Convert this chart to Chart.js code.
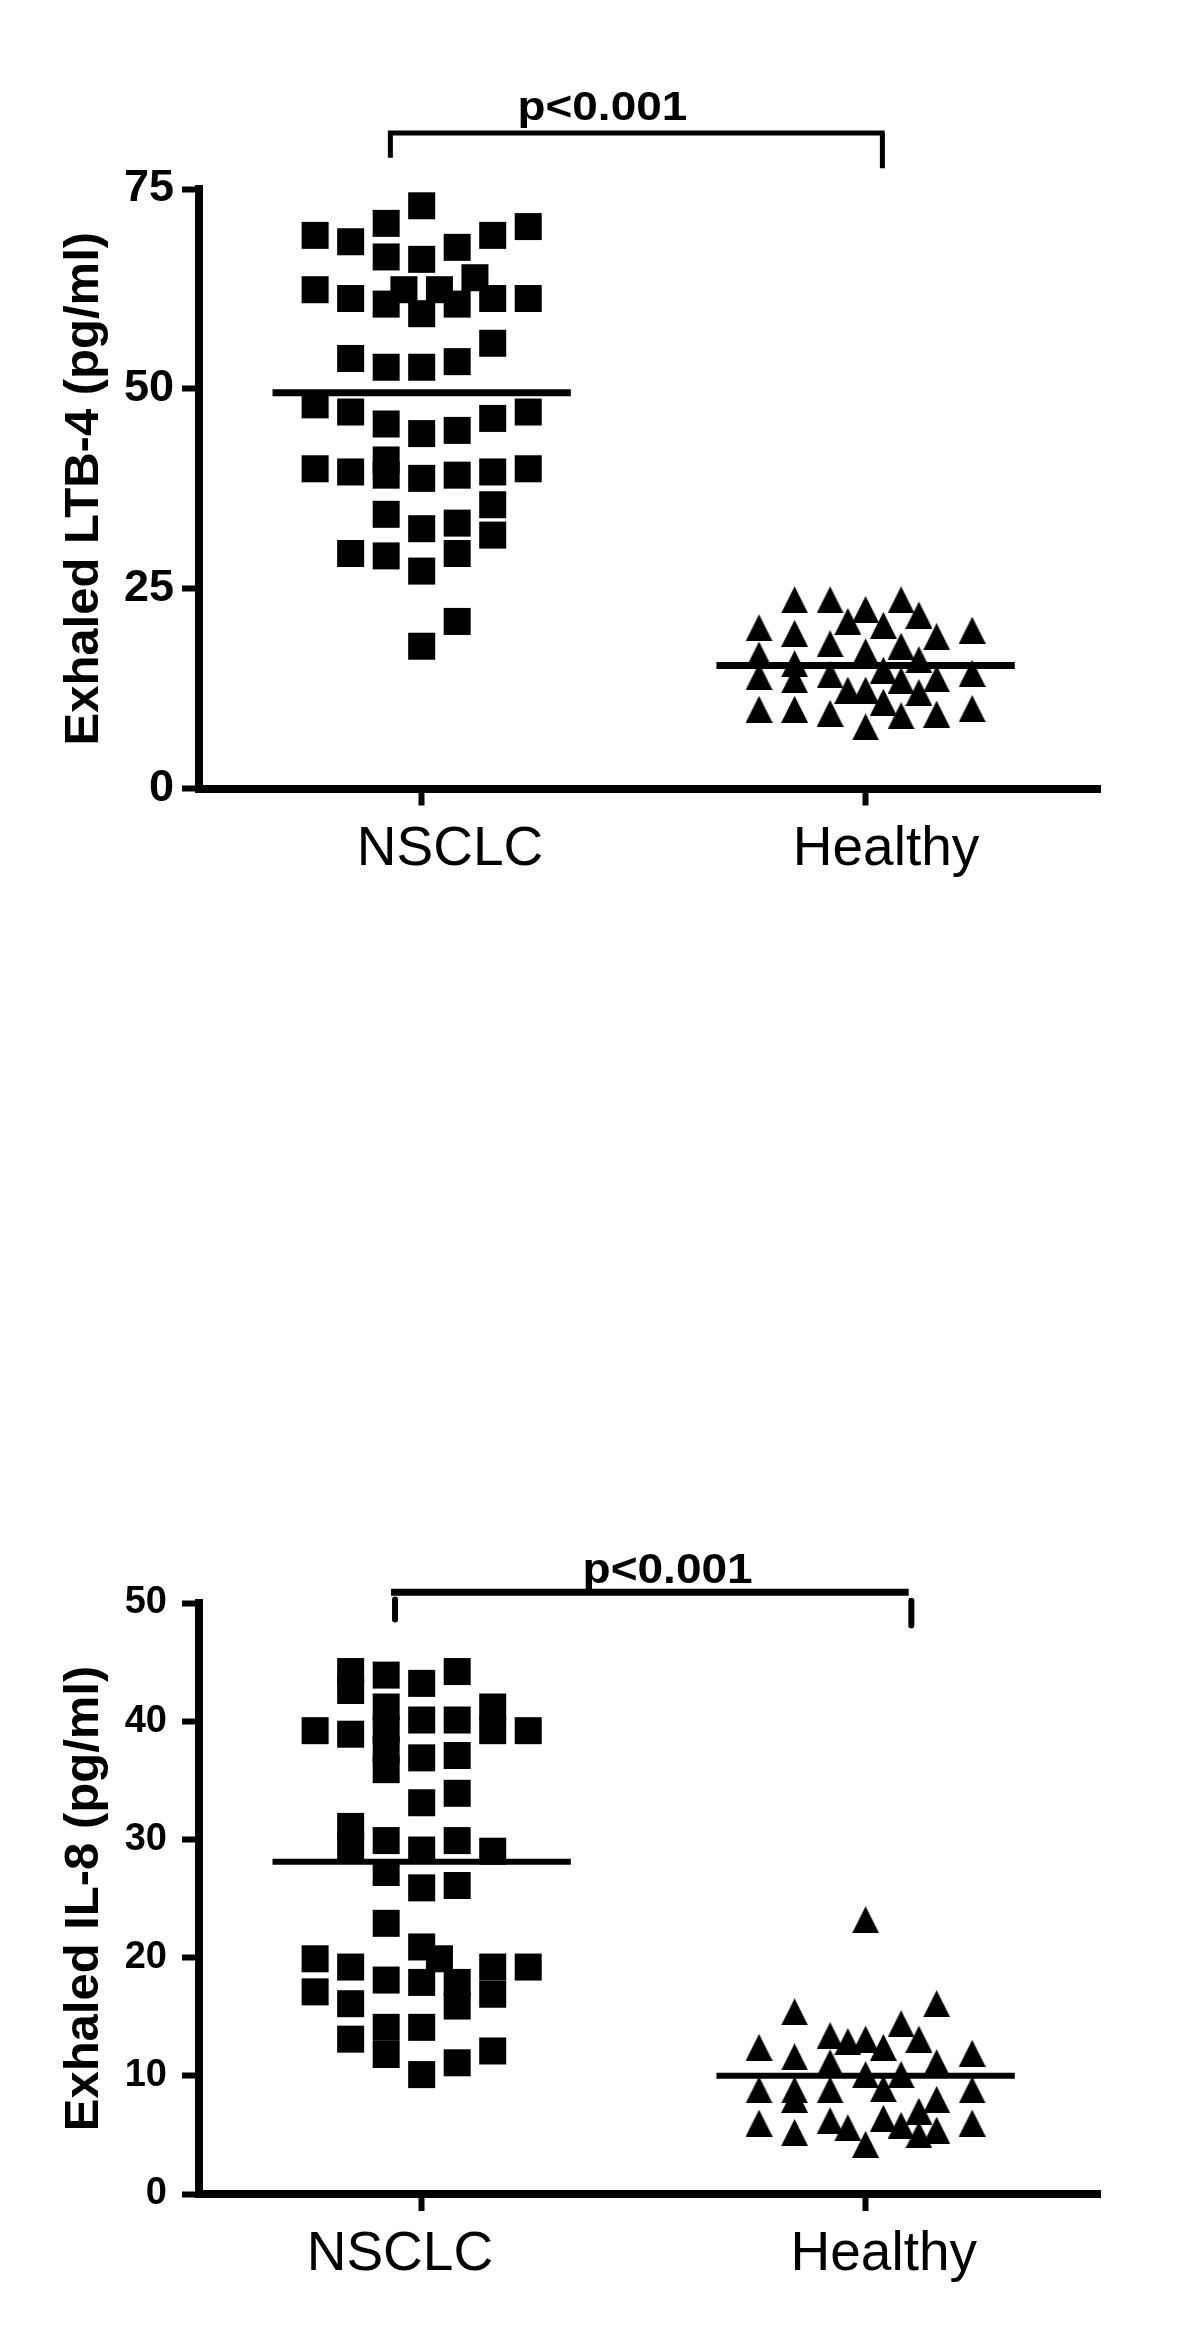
<!DOCTYPE html>
<html><head><meta charset="utf-8">
<script src="https://cdn.jsdelivr.net/npm/chart.js@4.4.1/dist/chart.umd.min.js"></script>
<style>
html,body{margin:0;padding:0;background:#fff;width:1200px;height:2343px;overflow:hidden}
canvas{position:absolute;left:0}
#c1{top:0}
#c2{top:1000px}
</style></head><body>
<canvas id="c1" width="1200" height="1000"></canvas>
<canvas id="c2" width="1200" height="1343"></canvas>
<script>
// ---------- DATA ----------
const categories = ['NSCLC', 'Healthy'];

// Panel 1: Exhaled LTB-4 (pg/ml)
const ltbTicks = [0, 25, 50, 75];
const ltbNsclc = [72.9, 69.2, 68.4, 70.7, 70.3, 69.2, 67.7, 66.5, 66.2,
  62.4, 61.3, 60.6, 62.4, 59.4, 62.4, 60.6, 63.9, 61.3, 61.3,
  53.8, 52.7, 52.7, 53.4, 55.7,
  48.0, 47.1, 45.6, 44.4, 44.8, 46.3, 47.1,
  40.0, 39.6, 41.1, 39.2, 38.8, 39.2, 39.6, 40.0,
  34.3, 32.5, 33.2, 35.5, 31.7,
  29.4, 29.1, 27.2, 29.4,
  20.9, 17.8];
const ltbNsclcColumn = [0, -6, -4, -2, 6, 4, 2, -2, 0,
  -6, -4, -2, -1, 0, 1, 2, 3, 4, 6,
  -4, -2, 0, 2, 4,
  -6, -4, -2, 0, 2, 4, 6,
  -6, -4, -2, -2, 0, 2, 4, 6,
  -2, 0, 2, 4, 4,
  -4, -2, 0, 2,
  2, 0];
const ltbHealthy = [20.1, 16.7, 14.0, 9.9,
  23.6, 19.4, 15.6, 13.6, 9.9,
  23.6, 18.1, 14.2, 9.4,
  20.9, 12.3,
  22.4, 17.1, 12.3, 7.7,
  20.4, 14.8, 10.8,
  23.6, 17.8, 13.5, 9.1,
  21.7, 16.1, 12.0,
  19.0, 13.7, 9.3,
  19.8, 14.4, 10.0];
const ltbHealthyColumn = [-6, -6, -6, -6,
  -4, -4, -4, -4, -4,
  -2, -2, -2, -2,
  -1, -1,
  0, 0, 0, 0,
  1, 1, 1,
  2, 2, 2, 2,
  3, 3, 3,
  4, 4, 4,
  6, 6, 6];
const ltbMeans = [49.5, 15.4];
const ltbP = 'p<0.001';

// Panel 2: Exhaled IL-8 (pg/ml)
const il8Ticks = [0, 10, 20, 30, 40, 50];
const il8Nsclc = [44.2, 42.6, 43.9, 43.2, 44.2,
  41.2, 39.3, 37.6, 35.9,
  40.1, 36.9, 33.1, 29.1,
  40.1, 37.1, 33.9, 29.9,
  39.2, 38.9, 41.2, 39.2, 39.2,
  31.1, 29.4, 29.9, 29.0,
  27.2, 25.9, 26.1, 22.9, 20.9, 19.9, 19.9, 19.2, 19.2, 19.2, 16.9, 17.1,
  18.1, 17.9, 17.9, 15.9, 16.1, 13.1, 14.1, 11.8, 14.1, 10.1, 11.1, 12.1];
const il8NsclcColumn = [-4, -4, -2, 0, 2,
  -2, -2, -2, -2,
  0, 0, 0, 0,
  2, 2, 2, 2,
  -6, -4, 4, 4, 6,
  -4, -4, -2, 4,
  -2, 0, 2, -2, 0, 1, -6, -4, 6, 4, 4, -6,
  -2, 0, 2, 2, -4, -4, -2, -2, 0, 0, 2, 4];
const il8Healthy = [12.4, 8.8, 6.0,
  15.4, 11.6, 8.8, 8.0, 5.2,
  13.4, 11.1, 8.8, 6.2,
  12.9, 5.6,
  23.2, 13.1, 10.1, 4.2,
  12.4, 8.9, 6.4,
  14.4, 10.1, 5.8,
  13.1, 7.0, 5.0,
  16.1, 11.1, 8.0, 5.4,
  11.9, 8.8, 6.0];
const il8HealthyColumn = [-6, -6, -6,
  -4, -4, -4, -4, -4,
  -2, -2, -2, -2,
  -1, -1,
  0, 0, 0, 0,
  1, 1, 1,
  2, 2, 2,
  3, 3, 3,
  4, 4, 4, 4,
  6, 6, 6];
const il8Means = [28.1, 10.0];
const il8P = 'p<0.001';

// ---------- RENDERING ----------
const COL_STEP = 0.04;      // horizontal spread of one column, in category units
const MEAN_HALF = 0.336;    // half-width of the mean bar, in category units
const X_MIN = 0.4984, X_MAX = 2.528;
const FONT = "'Liberation Sans', Arial, Helvetica, sans-serif";

function triangleImage(size) {
  const c = document.createElement('canvas');
  c.width = size; c.height = size;
  const g = c.getContext('2d');
  g.fillStyle = '#000';
  g.beginPath(); g.moveTo(size / 2, 0); g.lineTo(size, size); g.lineTo(0, size); g.closePath(); g.fill();
  return c;
}
const TRI = triangleImage(27);

function points(values, cols, catIndex) {
  return values.map((v, i) => ({x: catIndex + 1 + cols[i] * COL_STEP, y: v}));
}
function meanLine(mean, catIndex) {
  return [{x: catIndex + 1 - MEAN_HALF, y: mean}, {x: catIndex + 1 + MEAN_HALF, y: mean}];
}

const bracketPlugin = {
  id: 'sigBracket',
  afterDraw(chart, args, o) {
    const ctx = chart.ctx, xs = chart.scales.x, ys = chart.scales.y;
    const X = v => xs.getPixelForValue(v), Y = v => ys.getPixelForValue(v);
    ctx.save();
    ctx.strokeStyle = '#000';
    ctx.lineWidth = o.lineWidth;
    ctx.beginPath();
    ctx.moveTo(X(o.from), Y(o.level));
    ctx.lineTo(X(o.to), Y(o.level));
    ctx.stroke();
    ctx.lineWidth = o.tickWidth;
    ctx.lineCap = o.cap;
    ctx.beginPath();
    ctx.moveTo(X(o.leftTickX), Y(o.leftTop)); ctx.lineTo(X(o.leftTickX), Y(o.leftEnd));
    ctx.moveTo(X(o.rightTickX), Y(o.rightTop)); ctx.lineTo(X(o.rightTickX), Y(o.rightEnd));
    ctx.stroke();
    ctx.fillStyle = '#000';
    ctx.font = o.font;
    ctx.textAlign = 'center';
    ctx.textBaseline = 'alphabetic';
    ctx.translate(X(o.textX), Y(o.textY));
    ctx.scale(o.stretch, 1);
    ctx.fillText(o.text, 0, 0);
    ctx.restore();
  }
};

function makeChart(id, cfg) {
  const H = cfg.canvasHeight;
  return new Chart(document.getElementById(id), {
    type: 'scatter',
    data: {
      datasets: [
        {data: points(cfg.nsclc, cfg.nsclcCol, 0), pointStyle: 'rect', pointRadius: 19.1,
         backgroundColor: '#000', borderWidth: 0, clip: false},
        {data: points(cfg.healthy, cfg.healthyCol, 1), pointStyle: TRI, pointRadius: 14,
         backgroundColor: '#000', borderWidth: 0, clip: false},
        {data: meanLine(cfg.means[0], 0), showLine: true, borderColor: '#000', borderWidth: cfg.meanWidth,
         pointRadius: 0, clip: false},
        {data: meanLine(cfg.means[1], 1), showLine: true, borderColor: '#000', borderWidth: cfg.meanWidth,
         pointRadius: 0, clip: false}
      ]
    },
    options: {
      responsive: false, animation: false, events: [],
      layout: {padding: {left: 0, right: 1200 - 1100, top: cfg.areaTop, bottom: 0}},
      plugins: {legend: {display: false}, tooltip: {enabled: false}, sigBracket: cfg.bracket},
      scales: {
        x: {
          type: 'linear', position: 'bottom', min: X_MIN, max: X_MAX,
          afterBuildTicks: a => { a.ticks = categories.map((c, i) => ({value: i + 1})); },
          afterFit: s => { s.height = 17; },
          ticks: {display: false},
          grid: {display: true, drawOnChartArea: false, drawTicks: true, tickLength: 17,
                 tickWidth: 6, color: '#000'},
          border: {display: true, width: 8, color: '#000'}
        },
        xl: {
          type: 'linear', position: 'bottom', min: X_MIN, max: X_MAX,
          afterBuildTicks: a => { a.ticks = cfg.labelAt.map(v => ({value: v})); },
          afterFit: s => { s.height = H - cfg.areaBottom - 17; },
          ticks: {padding: 11, color: '#000', maxRotation: 0, autoSkip: false,
                  font: {family: FONT, size: 55, weight: 'normal'},
                  callback: (v, i) => categories[i]},
          grid: {display: false, drawTicks: false},
          border: {display: false}
        },
        y: {
          type: 'linear', position: 'left', min: 0, max: cfg.yMax,
          afterBuildTicks: a => { a.ticks = cfg.ticks.map(v => ({value: v})); },
          afterFit: s => { s.width = 199; },
          ticks: {padding: cfg.tickPad, color: '#000',
                  font: {family: FONT, size: cfg.tickSize, weight: 'bold'}},
          grid: {display: true, drawOnChartArea: false, drawTicks: true, tickLength: 17,
                 tickWidth: 6, color: '#000'},
          border: {display: true, width: 8, color: '#000'},
          title: {display: true, text: cfg.yTitle, color: '#000',
                  font: {family: FONT, size: 49, weight: 'bold', lineHeight: 1.2},
                  padding: {top: 55, bottom: 0}}
        }
      }
    },
    plugins: [bracketPlugin]
  });
}

makeChart('c1', {
  canvasHeight: 1000, areaTop: 189, areaBottom: 788.5, yMax: 75, ticks: ltbTicks,
  tickSize: 45, tickPad: 8,
  nsclc: ltbNsclc, nsclcCol: ltbNsclcColumn, healthy: ltbHealthy, healthyCol: ltbHealthyColumn,
  means: ltbMeans, meanWidth: 7, labelAt: [1.064, 2.046],
  yTitle: 'Exhaled LTB-4 (pg/ml)',
  bracket: {from: 0.924, to: 2.043, level: 82.0, lineWidth: 5, tickWidth: 5, cap: 'butt',
            leftTickX: 0.9295, leftTop: 82.0, leftEnd: 78.9,
            rightTickX: 2.0378, rightTop: 82.0, rightEnd: 77.6,
            text: ltbP, textX: 1.407, textY: 83.6, font: "bold 41px " + FONT, stretch: 1.12}
});

makeChart('c2', {
  canvasHeight: 1343, areaTop: 603, areaBottom: 1194, yMax: 50, ticks: il8Ticks,
  tickSize: 38, tickPad: 15,
  nsclc: il8Nsclc, nsclcCol: il8NsclcColumn, healthy: il8Healthy, healthyCol: il8HealthyColumn,
  means: il8Means, meanWidth: 6, labelAt: [0.951, 2.041],
  yTitle: 'Exhaled IL-8 (pg/ml)',
  bracket: {from: 0.931, to: 2.097, level: 50.9, lineWidth: 7, tickWidth: 6, cap: 'round',
            leftTickX: 0.94, leftTop: 50.3, leftEnd: 48.6,
            rightTickX: 2.103, rightTop: 50.2, rightEnd: 48.1,
            text: il8P, textX: 1.554, textY: 51.7, font: "bold 43px " + FONT, stretch: 1.07}
});
</script>
</body></html>
